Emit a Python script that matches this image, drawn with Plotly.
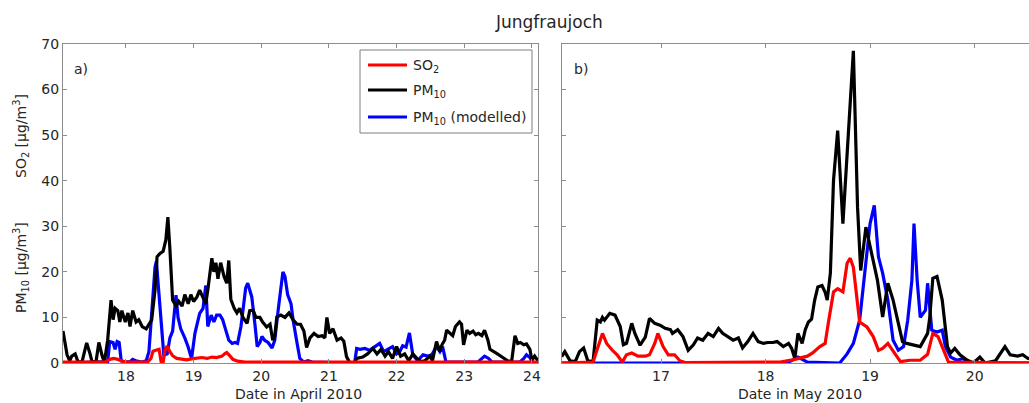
import plotly.graph_objects as go

# ---------------- data: panel a) April 2010 ----------------
apr_pm10_day = [17.07, 17.13, 17.17, 17.20, 17.25, 17.29, 17.35, 17.42, 17.47, 17.50, 17.56, 17.60, 17.65, 17.68,
                17.70, 17.73, 17.78, 17.81, 17.84, 17.88, 17.91, 17.94, 17.99, 18.03, 18.06, 18.10, 18.15, 18.19,
                18.24, 18.30, 18.34, 18.38, 18.43, 18.46, 18.50, 18.55, 18.59, 18.62, 18.65, 18.69, 18.74, 18.78,
                18.83, 18.87, 18.92, 18.96, 19.00, 19.05, 19.09, 19.14, 19.18, 19.21, 19.27, 19.30, 19.33, 19.36,
                19.40, 19.45, 19.49, 19.52, 19.55, 19.60, 19.64, 19.68, 19.73, 19.79, 19.83, 19.88, 19.92, 19.98,
                20.02, 20.08, 20.13, 20.17, 20.20, 20.23, 20.29, 20.35, 20.41, 20.47, 20.53, 20.58, 20.63, 20.67,
                20.72, 20.78, 20.84, 20.90, 20.94, 20.97, 21.01, 21.06, 21.12, 21.18, 21.22, 21.26, 21.31, 21.38,
                21.41, 21.50, 21.57, 21.65, 21.71, 21.77, 21.83, 21.88, 21.94, 22.00, 22.06, 22.12, 22.18, 22.24,
                22.30, 22.36, 22.42, 22.49, 22.53, 22.59, 22.64, 22.67, 22.71, 22.74, 22.79, 22.83, 22.87, 22.93,
                22.96, 22.99, 23.04, 23.08, 23.13, 23.17, 23.21, 23.26, 23.30, 23.35, 23.38, 23.44, 23.49, 23.57,
                23.64, 23.70, 23.75, 23.79, 23.83, 23.88, 23.92, 23.97, 24.00, 24.04, 24.09]
apr_pm10 = [7.0, 1.8, 0.5, 1.5, 2.0, 0.3, 0.2, 4.4, 2.0, 0.2, 0.5, 4.5, 1.5, 0.3,
            2.0, 5.0, 13.8, 9.5, 12.0, 11.5, 9.0, 11.5, 9.0, 11.0, 8.0, 11.5, 9.0, 9.5,
            8.0, 7.5, 8.5, 9.4, 16.0, 23.3, 24.0, 24.5, 27.0, 32.0, 25.0, 13.8, 12.5, 13.5,
            12.5, 15.0, 13.0, 15.0, 13.5, 14.5, 16.0, 14.5, 13.0, 16.0, 23.0, 20.0, 22.0, 18.5,
            22.0, 19.0, 17.5, 22.5, 14.0, 12.0, 11.0, 12.0, 10.0, 8.7, 11.5, 11.6, 10.0, 10.0,
            9.0, 7.9, 8.5, 5.0, 6.0, 10.1, 10.5, 10.0, 11.0, 9.5, 8.5, 8.5, 7.0, 3.4,
            5.5, 6.5, 5.8, 6.0, 5.5, 10.0, 6.5, 7.5, 5.0, 5.5, 4.8, 1.4, 0.0, 0.0,
            1.0, 1.3, 2.0, 3.2, 2.0, 3.0, 1.5, 2.5, 1.0, 3.6, 1.5, 2.0, 0.5, 2.0,
            1.0, 0.3, 0.5, 1.5, 0.5, 4.7, 2.5, 4.0, 5.0, 7.2, 6.5, 6.0, 8.0, 9.0,
            8.5, 4.0, 7.2, 6.5, 7.0, 6.2, 6.5, 6.0, 7.2, 5.0, 3.0, 2.5, 2.0, 1.2,
            0.5, 0.3, 6.0, 4.3, 4.5, 4.0, 4.2, 3.0, 0.6, 1.5, 0.5]

apr_mod_day = [17.07, 17.73, 17.76, 17.81, 17.84, 17.87, 17.90, 17.93, 17.99, 18.06, 18.10, 18.16, 18.24, 18.30,
               18.34, 18.38, 18.43, 18.45, 18.49, 18.53, 18.56, 18.61, 18.65, 18.69, 18.74, 18.77, 18.81, 18.87,
               18.92, 18.97, 19.02, 19.06, 19.09, 19.14, 19.18, 19.21, 19.26, 19.30, 19.34, 19.39, 19.43, 19.48,
               19.52, 19.57, 19.61, 19.65, 19.70, 19.73, 19.77, 19.80, 19.83, 19.86, 19.91, 19.94, 19.98, 20.01,
               20.05, 20.10, 20.16, 20.20, 20.25, 20.29, 20.32, 20.35, 20.39, 20.44, 20.47, 20.53, 20.57, 20.63,
               20.69, 20.75, 21.38, 21.41, 21.46, 21.53, 21.60, 21.67, 21.75, 21.81, 21.87, 21.94, 22.00, 22.05,
               22.09, 22.14, 22.19, 22.24, 22.31, 22.39, 22.46, 22.52, 22.59, 22.64, 22.68, 22.73, 23.20, 23.26,
               23.30, 23.36, 23.41, 23.82, 23.88, 23.92, 23.97, 24.01, 24.09]
apr_mod = [0.0, 0.3, 4.7, 4.5, 3.0, 4.7, 4.5, 0.5, 0.2, 0.3, 0.8, 0.4, 0.2, 0.5,
           2.5, 10.0, 21.0, 22.3, 15.0, 6.0, 1.7, 2.0, 5.5, 7.0, 14.9, 10.0, 7.5, 5.5,
           3.5, 1.0, 6.5, 9.0, 10.9, 12.0, 17.0, 8.0, 10.5, 9.0, 10.5, 10.5, 9.5, 7.0,
           5.0, 4.3, 4.5, 4.3, 8.0, 11.6, 16.5, 17.5, 16.0, 14.5, 8.0, 3.6, 4.5, 5.8,
           5.0, 4.5, 3.3, 5.0, 11.6, 17.0, 20.0, 19.0, 15.0, 13.0, 9.5, 4.3, 1.0, 0.2,
           0.5, 0.2, 0.0, 3.2, 3.0, 3.2, 2.8, 3.5, 4.3, 2.5, 3.0, 3.6, 2.0, 2.6,
           3.8, 3.5, 6.6, 1.8, 0.5, 1.8, 1.5, 1.8, 3.6, 2.5, 3.6, 0.2, 0.2, 1.0,
           1.5, 1.0, 0.2, 0.2, 1.0, 1.8, 1.2, 0.1, 0.0]

apr_so2_day = [17.07, 17.69, 17.76, 17.82, 17.88, 17.94, 18.01, 18.32, 18.37, 18.40, 18.44, 18.49, 18.52, 18.55,
               18.58, 18.61, 18.65, 18.69, 18.75, 18.83, 18.90, 18.97, 19.05, 19.12, 19.20, 19.27, 19.34, 19.42,
               19.46, 19.49, 19.54, 19.58, 19.65, 19.76, 20.5, 21.5, 22.5, 23.5, 24.09]
apr_so2 = [0.2, 0.2, 0.8, 1.0, 0.8, 0.4, 0.2, 0.2, 1.0, 2.6, 2.8, 3.0, 0.3, 0.2,
           3.0, 3.7, 2.5, 1.6, 1.0, 0.8, 0.7, 0.9, 1.0, 1.2, 1.0, 1.3, 1.2, 1.5,
           2.0, 2.3, 1.5, 0.8, 0.4, 0.2, 0.2, 0.2, 0.2, 0.2, 0.2]

# ---------------- data: panel b) May 2010 ----------------
may_pm10_day = [16.05, 16.08, 16.13, 16.18, 16.22, 16.26, 16.30, 16.35, 16.39, 16.42, 16.44, 16.46, 16.51, 16.56,
                16.61, 16.64, 16.67, 16.72, 16.75, 16.80, 16.85, 16.89, 16.94, 16.99, 17.04, 17.09, 17.11, 17.16,
                17.21, 17.26, 17.31, 17.35, 17.40, 17.45, 17.50, 17.55, 17.59, 17.64, 17.69, 17.74, 17.78, 17.83,
                17.88, 17.93, 17.98, 18.02, 18.07, 18.11, 18.17, 18.22, 18.25, 18.28, 18.31, 18.35, 18.38, 18.41,
                18.44, 18.47, 18.50, 18.54, 18.57, 18.59, 18.62, 18.65, 18.69, 18.74, 18.79, 18.84, 18.88, 18.91,
                18.96, 19.00, 19.07, 19.12, 19.17, 19.22, 19.27, 19.31, 19.35, 19.41, 19.48, 19.55, 19.57, 19.60,
                19.64, 19.69, 19.74, 19.77, 19.81, 19.86, 19.93, 19.99, 20.05, 20.10, 20.20, 20.29, 20.34, 20.41,
                20.46, 20.51, 20.58]
may_pm10 = [1.4, 2.5, 0.5, 0.3, 2.5, 3.3, 0.5, 0.3, 9.4, 9.0, 10.0, 9.4, 10.9, 10.5,
            8.0, 4.0, 4.3, 8.7, 6.5, 3.9, 5.7, 9.8, 8.7, 8.3, 7.6, 7.3, 6.5, 7.3,
            5.8, 2.8, 4.0, 5.5, 5.0, 6.5, 5.8, 7.6, 6.5, 5.8, 5.0, 5.5, 3.3, 4.7,
            6.5, 4.7, 4.3, 4.5, 4.5, 4.7, 3.6, 4.3, 3.2, 1.0, 6.5, 4.3, 7.3, 9.0,
            9.6, 13.8, 16.7, 17.0, 15.5, 13.8, 19.7, 40.0, 51.0, 30.6, 48.8, 68.5, 34.2, 20.3,
            29.8, 25.4, 18.2, 10.1, 17.5, 13.8, 8.7, 4.7, 4.3, 4.0, 3.6, 6.5, 9.8, 18.6,
            19.0, 13.8, 3.6, 2.2, 3.2, 1.8, 0.6, 0.0, 1.3, 0.0, 0.5, 3.6, 1.8, 1.5,
            1.8, 1.0, 1.0]

may_mod_day = [16.05, 18.14, 18.23, 18.31, 18.40, 18.71, 18.78, 18.84, 18.90, 18.95, 19.00, 19.04, 19.08, 19.12,
               19.17, 19.22, 19.27, 19.32, 19.36, 19.40, 19.42, 19.45, 19.48, 19.53, 19.55, 19.59, 19.64, 19.69,
               19.72, 19.77, 19.83, 19.89, 19.94, 20.58]
may_mod = [0.0, 0.0, 0.3, 1.3, 0.2, 0.0, 2.0, 4.3, 9.4, 19.7, 30.6, 34.6, 23.3, 19.7,
           13.8, 5.0, 2.8, 3.6, 9.4, 18.2, 30.6, 18.2, 10.0, 11.6, 17.5, 7.2, 6.8, 7.2,
           3.6, 1.3, 0.6, 1.0, 0.0, 0.0]

may_so2_day = [16.05, 16.35, 16.39, 16.44, 16.48, 16.53, 16.58, 16.63, 16.67, 16.72, 16.78, 16.85, 16.89, 16.94,
               16.97, 17.02, 17.07, 17.13, 17.18, 17.23, 18.14, 18.26, 18.40, 18.45, 18.52, 18.57, 18.60, 18.65,
               18.69, 18.74, 18.78, 18.81, 18.84, 18.88, 18.90, 18.97, 19.03, 19.08, 19.12, 19.17, 19.24, 19.29,
               19.38, 19.48, 19.55, 19.60, 19.65, 19.70, 19.75, 20.58]
may_so2 = [0.0, 0.2, 3.0, 6.5, 4.3, 2.9, 1.8, 0.2, 1.8, 2.2, 1.5, 1.5, 1.8, 4.3,
           6.5, 3.6, 1.8, 1.8, 0.5, 0.1, 0.2, 0.7, 1.5, 2.2, 3.6, 4.3, 8.7, 15.6,
           16.3, 15.6, 21.9, 23.0, 21.0, 12.3, 9.0, 7.9, 5.8, 2.8, 3.2, 4.3, 1.8, 0.3,
           0.6, 0.6, 1.9, 6.5, 5.8, 2.8, 0.2, 0.0]

apr_ticks = [18, 19, 20, 21, 22, 23, 24]
may_ticks = [17, 18, 19, 20]
y_ticks = [0, 10, 20, 30, 40, 50, 60, 70]

series_names = ["SO<sub>2</sub>", "PM<sub>10</sub>", "PM<sub>10</sub> (modelled)"]

RED = "#ff0000"
BLACK = "#000000"
BLUE = "#0000ff"
series_colors = [RED, BLACK, BLUE]
LW = 3.2
FONT = "DejaVu Sans, Verdana, sans-serif"
AXC = "#8c8c8c"
TXT = "#262626"
FS = 14

fig = go.Figure()

# panel a (draw order: modelled, measured, SO2 on top)
fig.add_trace(go.Scatter(x=apr_mod_day, y=apr_mod, mode="lines", line=dict(color=BLUE, width=LW),
                         name=series_names[2], showlegend=False, xaxis="x", yaxis="y"))
fig.add_trace(go.Scatter(x=apr_pm10_day, y=apr_pm10, mode="lines", line=dict(color=BLACK, width=LW),
                         name=series_names[1], showlegend=False, xaxis="x", yaxis="y"))
fig.add_trace(go.Scatter(x=apr_so2_day, y=apr_so2, mode="lines", line=dict(color=RED, width=LW),
                         name=series_names[0], showlegend=False, xaxis="x", yaxis="y"))
# panel b
fig.add_trace(go.Scatter(x=may_mod_day, y=may_mod, mode="lines", line=dict(color=BLUE, width=LW),
                         name=series_names[2], showlegend=False, xaxis="x2", yaxis="y2"))
fig.add_trace(go.Scatter(x=may_pm10_day, y=may_pm10, mode="lines", line=dict(color=BLACK, width=LW),
                         name=series_names[1], showlegend=False, xaxis="x2", yaxis="y2"))
fig.add_trace(go.Scatter(x=may_so2_day, y=may_so2, mode="lines", line=dict(color=RED, width=LW),
                         name=series_names[0], showlegend=False, xaxis="x2", yaxis="y2"))

W, H = 1029, 403
ML, MR, MT, MB = 63, 0, 44, 40
pw = W - ML - MR
ph = H - MT - MB


def px_x(p):
    return (p - ML) / pw


def px_y(p):
    return (H - MB - p) / ph


axis_common = dict(showline=True, linecolor=AXC, linewidth=1, ticks="inside", ticklen=4,
                   tickcolor=AXC, showgrid=False, zeroline=False, automargin=False,
                   tickfont=dict(family=FONT, size=FS, color=TXT))

fig.update_layout(
    width=W, height=H,
    margin=dict(l=ML, r=MR, t=MT, b=MB, pad=0),
    paper_bgcolor="white", plot_bgcolor="white",
    font=dict(family=FONT, size=FS, color=TXT),
    showlegend=False,
    xaxis=dict(domain=[0, px_x(538)], range=[17.07, 24.09], tickvals=apr_ticks,
               mirror="ticks", anchor="y", **axis_common),
    yaxis=dict(domain=[0, 1], range=[0, 70], tickvals=y_ticks, mirror="ticks", anchor="x",
               **axis_common),
    xaxis2=dict(domain=[px_x(562), 1], range=[16.053, 20.52], tickvals=may_ticks,
                mirror="ticks", anchor="y2", **axis_common),
    yaxis2=dict(domain=[0, 1], range=[0, 70], tickvals=y_ticks, showticklabels=False,
                mirror=False, anchor="x2", **axis_common),
)

ann = [
    dict(text="Jungfraujoch", x=px_x(549), y=px_y(22), xref="paper", yref="paper",
         showarrow=False, font=dict(family=FONT, size=17, color=TXT), xanchor="center", yanchor="middle"),
    dict(text="Date in April 2010", x=px_x(298), y=px_y(394), xref="paper", yref="paper",
         showarrow=False, font=dict(family=FONT, size=FS, color=TXT), xanchor="center", yanchor="middle"),
    dict(text="Date in May 2010", x=px_x(800), y=px_y(394), xref="paper", yref="paper",
         showarrow=False, font=dict(family=FONT, size=FS, color=TXT), xanchor="center", yanchor="middle"),
    dict(text="SO<sub>2</sub> [µg/m<sup>3</sup>]", x=px_x(21), y=px_y(136), xref="paper", yref="paper",
         textangle=-90, showarrow=False, font=dict(family=FONT, size=FS, color=TXT),
         xanchor="center", yanchor="middle"),
    dict(text="PM<sub>10</sub> [µg/m<sup>3</sup>]", x=px_x(21), y=px_y(268), xref="paper", yref="paper",
         textangle=-90, showarrow=False, font=dict(family=FONT, size=FS, color=TXT),
         xanchor="center", yanchor="middle"),
    dict(text="a)", x=px_x(72), y=px_y(69), xref="paper", yref="paper", showarrow=False,
         font=dict(family=FONT, size=FS, color=TXT), xanchor="left", yanchor="middle"),
    dict(text="b)", x=px_x(572), y=px_y(69), xref="paper", yref="paper", showarrow=False,
         font=dict(family=FONT, size=FS, color=TXT), xanchor="left", yanchor="middle"),
]

# legend box drawn manually (inside panel a)
shapes = [dict(type="rect", xref="paper", yref="paper", x0=px_x(360), x1=px_x(532),
               y0=px_y(133), y1=px_y(50), line=dict(color="#7f7f7f", width=1), fillcolor="white",
               layer="above")]
legend_rows = [65, 90, 117]
for name, col, ry in zip(series_names, series_colors, legend_rows):
    shapes.append(dict(type="line", xref="paper", yref="paper", x0=px_x(368), x1=px_x(407),
                       y0=px_y(ry), y1=px_y(ry), line=dict(color=col, width=LW), layer="above"))
    ann.append(dict(text=name, x=px_x(411), y=px_y(ry + 1), xref="paper", yref="paper",
                    showarrow=False, font=dict(family=FONT, size=FS, color=TXT),
                    xanchor="left", yanchor="middle"))

fig.update_layout(annotations=ann, shapes=shapes)

fig.write_html("out.html")
